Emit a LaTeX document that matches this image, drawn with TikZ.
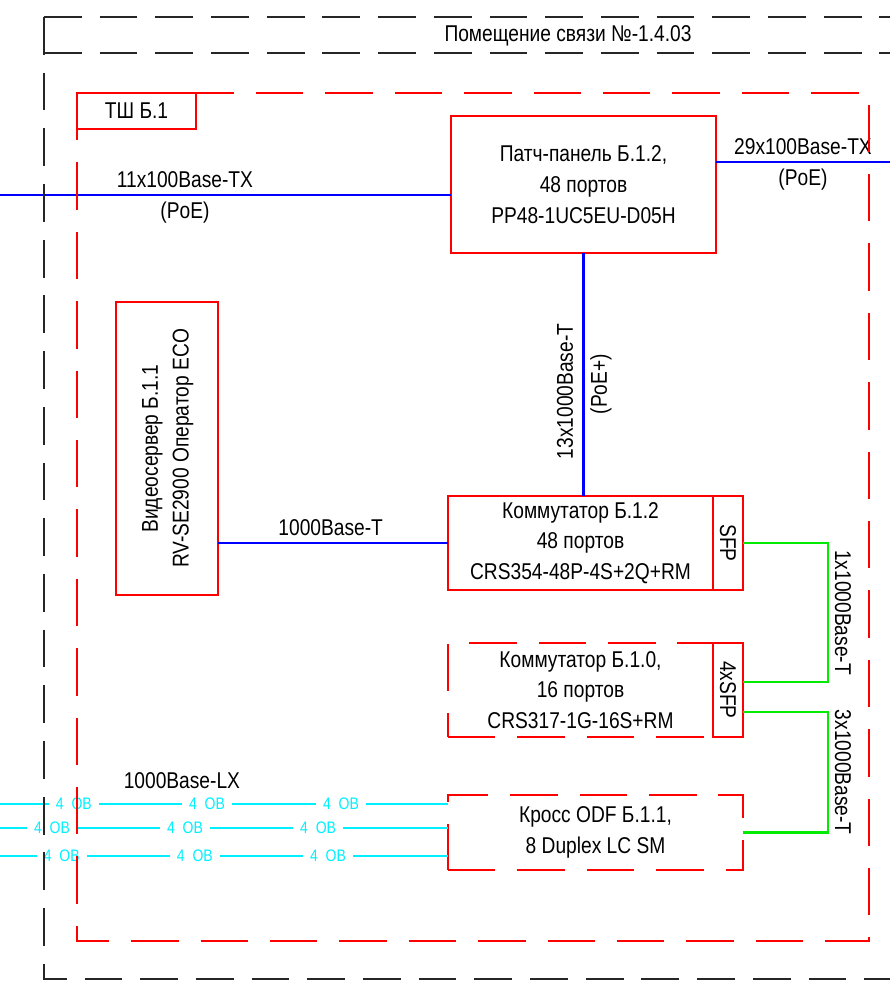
\documentclass[tikz,border=0pt]{standalone}
\usepackage{fontspec}
\setmainfont{Liberation Sans}[FakeStretch=0.84]
\usepackage{graphicx}
\usepackage{tikz}
\usetikzlibrary{positioning,calc}
\definecolor{devred}{RGB}{255,0,0}
\definecolor{ethblue}{RGB}{0,0,255}
\definecolor{sfpgreen}{RGB}{0,235,0}
\definecolor{fibcyan}{RGB}{0,240,255}

\begin{document}
\begin{tikzpicture}[x=0.02cm, y=-0.02cm,
  font=\fontsize{13}{17.5}\selectfont,
  dev/.style={rectangle, draw=devred, line width=1.1pt, outer sep=0pt, inner sep=0pt, align=center},
  devdash/.style={dev, dash pattern=on 27pt off 12.5pt},
  encl/.style={draw=devred, line width=1.1pt, dash pattern=on 27pt off 12.5pt},
  room/.style={draw=black!85, line width=0.7pt, dash pattern=on 21.5pt off 10.2pt},
  eth/.style={draw=ethblue, line width=1.2pt},
  sfpline/.style={draw=sfpgreen, line width=1.2pt},
  fibre/.style={draw=fibcyan, line width=1.2pt},
  fl/.style={fill=white, text=fibcyan, font=\fontsize{9.5}{11}\selectfont, inner xsep=4pt, inner ysep=1pt}
]
\useasboundingbox (0,0) rectangle (890,989);

\node (title) at (568,36) {Помещение связи №-1.4.03};
\node[dev, minimum width=2.38cm, minimum height=0.72cm] (tsh) at (136.5,111) {ТШ Б.1};

\node[dev, minimum width=5.3cm, minimum height=2.74cm] (pp) at (583.5,184.5) {Патч-панель Б.1.2,\\48 портов\\PP48-1UC5EU-D05H};
\node[dev, minimum width=5.3cm, minimum height=1.88cm] (sw2) at (580.5,543) {Коммутатор Б.1.2\\48 портов\\CRS354-48P-4S+2Q+RM};
\node[dev, minimum width=0.6cm, minimum height=1.88cm, right=0pt of sw2] (sfp) {\rotatebox{-90}{SFP}};
\node[devdash, minimum width=5.3cm, minimum height=1.88cm] (sw0) at (580.5,690) {Коммутатор Б.1.0,\\16 портов\\CRS317-1G-16S+RM};
\node[dev, minimum width=0.6cm, minimum height=1.88cm, right=0pt of sw0] (sfp4) {\rotatebox{-90}{4xSFP}};
\node[devdash, minimum width=5.9cm, minimum height=1.5cm] (odf) at (595.5,832.5) {Кросс ODF Б.1.1,\\8 Duplex LC SM};
\node[dev, minimum width=2.04cm, minimum height=5.86cm] (vs) at (167,448.5) {\rotatebox{90}{\begin{tabular}{@{}c@{}}Видеосервер Б.1.1\\RV-SE2900 Оператор ECO\end{tabular}}};

\coordinate (inL) at (0,195);
\coordinate (outR) at (890,162);
\coordinate (f1) at (0,804);
\coordinate (f2) at (0,828);
\coordinate (f3) at (0,856);

\draw[eth] (inL) -- (inL -| pp.west) node[pos=.41, above] {11x100Base-TX} node[pos=.41, below] {(PoE)};
\draw[eth] (outR -| pp.east) -- (outR) node[pos=.5, above] {29x100Base-TX} node[pos=.5, below] {(PoE)};
\draw[eth] (pp.south |- sw2.north) -- (pp.south) node[pos=.43, sloped, above=2pt] {13x1000Base-T} node[pos=.46, sloped, below] {(PoE+)};
\draw[eth] (sw2.west -| vs.east) -- (sw2.west) node[pos=.49, above] {1000Base-T};

\draw[sfpline] (sfp.east) -- ++(85,0) |- ([yshift=0.16cm]sfp4.east) node[pos=.25, sloped, above] {1x1000Base-T};
\draw[sfpline] ([yshift=-0.44cm]sfp4.east) -- ++(85,0) |- (odf.east) node[pos=.25, sloped, above] {3x1000Base-T};

\draw[fibre] (f1) -- (f1 -| odf.west) node[fl, pos=.165] {4\ \ ОВ} node[fl, pos=.462] {4\ \ ОВ} node[fl, pos=.761] {4\ \ ОВ} node[pos=.406, above=5pt, text=black] {1000Base-LX};
\draw[fibre] (f2) -- (f2 -| odf.west) node[fl, pos=.116] {4\ \ ОВ} node[fl, pos=.413] {4\ \ ОВ} node[fl, pos=.71] {4\ \ ОВ};
\draw[fibre] (f3) -- (f3 -| odf.west) node[fl, pos=.138] {4\ \ ОВ} node[fl, pos=.435] {4\ \ ОВ} node[fl, pos=.732] {4\ \ ОВ};

\draw[encl] (77,93) rectangle (869,941);
\draw[room] (44,17) -- (890,17);
\draw[room] (44,53) -- (890,53);
\draw[room] (44,17) -- (44,979) -- (890,979);
\end{tikzpicture}
\end{document}
